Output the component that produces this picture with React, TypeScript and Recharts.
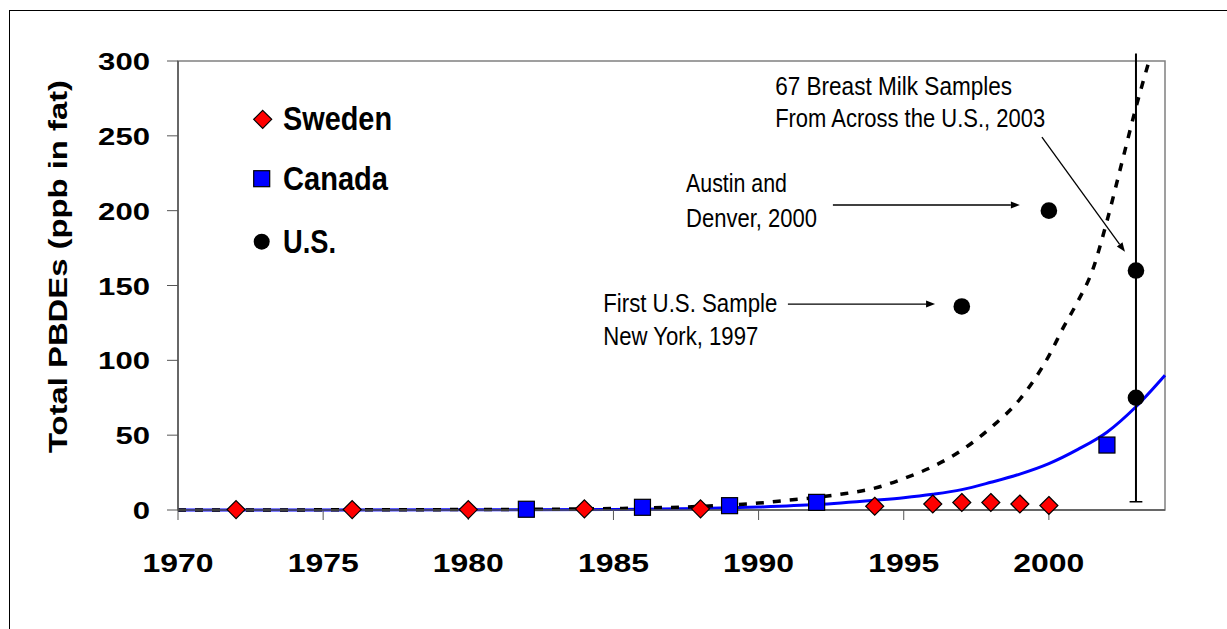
import React from 'react';
import {
  ComposedChart,
  Line,
  Scatter,
  XAxis,
  YAxis,
  Legend,
  ReferenceArea,
  ReferenceLine,
  ReferenceDot,
} from 'recharts';

document.body.style.margin = '0';

const xTicks = [1970, 1975, 1980, 1985, 1990, 1995, 2000];
const yTicks = [0, 50, 100, 150, 200, 250, 300];

const swedenYears = [1972, 1976, 1980, 1984, 1988, 1994, 1996, 1997, 1998, 1999, 2000];
const swedenValues = [0.3, 0.3, 0.3, 0.8, 0.8, 2.5, 4, 5, 5, 4, 3];

const canadaYears = [1982, 1986, 1989, 1992, 2002];
const canadaValues = [0.5, 1.8, 2.9, 5.1, 43.4];

const usYears = [1997, 2000, 2003, 2003];
const usValues = [136, 200, 160, 75];

// fitted curves as drawn in the original
const usTrendYears = [1970, 1975, 1980, 1984, 1986, 1988, 1990, 1991, 1992, 1993, 1994, 1995, 1996, 1997, 1998, 1999, 2000, 2000.5, 2001, 2001.5, 2002, 2002.5, 2003, 2003.45];
const usTrendValues = [0, 0.1, 0.3, 0.7, 1.3, 2.4, 4.6, 6.5, 8.4, 11, 14.6, 21, 29, 40, 55, 74, 103, 122, 139.5, 160, 193, 231, 269, 300];

const canadaTrendYears = [1970, 1980, 1985, 1988, 1990, 1992, 1994, 1995, 1996, 1997, 1998, 1999, 2000, 2001, 2002, 2003, 2004];
const canadaTrendValues = [0, 0.1, 0.4, 1, 2, 3.6, 6.5, 8.2, 10.5, 13.6, 18.5, 24, 31, 40.5, 52, 69, 90];

// 2003 range bar
const usRange = { year: 2003, low: 5.5, high: 305 };

const notes = [
  { year: 1990.57, value: 277.3, lines: ['67 Breast Milk Samples', 'From Across the U.S., 2003'], widths: [237, 270], gap: 31.7 },
  { year: 1987.5, value: 212.7, lines: ['Austin and', 'Denver, 2000'], widths: [101, 131], gap: 35.6 },
  { year: 1984.65, value: 132.5, lines: ['First U.S. Sample', 'New York, 1997'], widths: [174, 155], gap: 33.3 },
];

const arrows = [
  { from: [1999.76, 249.2], to: [2002.62, 172.6] },
  { from: [1992.56, 203.8], to: [1999.0, 203.8] },
  { from: [1991.01, 137.6], to: [1996.08, 137.6] },
];

const toPoints = (xs: number[], ys: number[]) => xs.map((year, i) => ({ year, value: ys[i] }));

const sweden = toPoints(swedenYears, swedenValues);
const canada = toPoints(canadaYears, canadaValues);
const us = toPoints(usYears, usValues);
const usTrend = toPoints(usTrendYears, usTrendValues);
const canadaTrend = toPoints(canadaTrendYears, canadaTrendValues);

const FONT = '"Liberation Sans", Arial, sans-serif';
const NARROW = '"Liberation Sans Narrow", "Liberation Sans", Arial, sans-serif';

const Diamond = (p: any) => (
  <polygon
    points={`${p.cx},${p.cy - 9} ${p.cx + 9},${p.cy} ${p.cx},${p.cy + 9} ${p.cx - 9},${p.cy}`}
    fill='#FF0000'
    stroke='#000'
    strokeWidth={1.2}
  />
);

const Square = (p: any) => (
  <rect x={p.cx - 8} y={p.cy - 8} width={16} height={16} fill='#0000FF' stroke='#000' strokeWidth={1.2} />
);

const Dot = (p: any) => <circle cx={p.cx} cy={p.cy} r={8.3} fill='#000' />;

const XTick = (p: any) => (
  <text
    x={p.x}
    y={p.y + 50}
    textAnchor='middle'
    fontFamily={FONT}
    fontWeight='bold'
    fontSize={26}
    textLength={String(p.payload.value).length * 17.75}
    lengthAdjust='spacingAndGlyphs'
    fill='#000'
  >
    {p.payload.value}
  </text>
);

const YTick = (p: any) => (
  <text
    x={p.x}
    y={p.y + 9}
    textAnchor='end'
    fontFamily={FONT}
    fontWeight='bold'
    fontSize={23}
    textLength={String(p.payload.value).length * 17.3}
    lengthAdjust='spacingAndGlyphs'
    fill='#000'
  >
    {p.payload.value}
  </text>
);

const Arrow = (p: any) => {
  const { x1, y1, x2, y2 } = p;
  const a = Math.atan2(y2 - y1, x2 - x1);
  const bx = x2 - 9 * Math.cos(a);
  const by = y2 - 9 * Math.sin(a);
  const px = -Math.sin(a) * 3.5;
  const py = Math.cos(a) * 3.5;
  return (
    <g>
      <line x1={x1} y1={y1} x2={bx} y2={by} stroke='#000' strokeWidth={1.3} />
      <polygon points={`${x2},${y2} ${bx + px},${by + py} ${bx - px},${by - py}`} fill='#000' />
    </g>
  );
};

const noteShape = (note: (typeof notes)[number]) => (p: any) => (
  <g>
    {note.lines.map((line, i) => (
      <text
        key={line}
        x={p.cx}
        y={p.cy + i * note.gap}
        fontFamily={NARROW}
        fontSize={25}
        textLength={note.widths[i]}
        lengthAdjust='spacingAndGlyphs'
        fill='#000'
      >
        {line}
      </text>
    ))}
  </g>
);

const LegendBox = () => (
  <svg width={170} height={175}>
    <polygon points='22.7,15.3 31.7,24.3 22.7,33.3 13.7,24.3' fill='#FF0000' stroke='#000' strokeWidth={1.2} />
    <text x={43} y={35} fontFamily={NARROW} fontWeight='bold' fontSize={34} textLength={109} lengthAdjust='spacingAndGlyphs'>
      Sweden
    </text>
    <rect x={13.7} y={75.7} width={16} height={16} fill='#0000FF' stroke='#000' strokeWidth={1.2} />
    <text x={43} y={95} fontFamily={NARROW} fontWeight='bold' fontSize={34} textLength={105} lengthAdjust='spacingAndGlyphs'>
      Canada
    </text>
    <circle cx={21.7} cy={146.7} r={8} fill='#000' />
    <text x={43} y={158} fontFamily={NARROW} fontWeight='bold' fontSize={34} textLength={53} lengthAdjust='spacingAndGlyphs'>
      U.S.
    </text>
  </svg>
);

export default function App() {
  return (
    <div style={{ position: 'relative', width: 1227, height: 629, overflow: 'hidden' }}>
      <div
        style={{
          position: 'absolute',
          left: 9,
          top: 10,
          width: 1218,
          height: 619,
          borderLeft: '1px solid #000',
          borderTop: '1px solid #000',
          boxSizing: 'border-box',
        }}
      />
      <ComposedChart width={1227} height={629} margin={{ top: 61, right: 62, bottom: 59, left: 78 }}>
        <ReferenceArea x1={1970} x2={2004} y1={0} y2={300} fill='none' stroke='#808080' strokeWidth={1.5} />
        <XAxis
          type='number'
          dataKey='year'
          domain={[1970, 2004]}
          ticks={xTicks}
          interval={0}
          height={60}
          tickSize={10}
          tick={<XTick />}
          axisLine={{ stroke: '#555', strokeWidth: 1.5 }}
          tickLine={{ stroke: '#555' }}
        />
        <YAxis
          type='number'
          domain={[0, 300]}
          ticks={yTicks}
          interval={0}
          width={100}
          tickSize={11}
          tickMargin={17}
          tick={<YTick />}
          axisLine={{ stroke: '#555', strokeWidth: 1.5 }}
          tickLine={{ stroke: '#555' }}
          label={() => (
            <text
              transform='translate(67, 266.5) rotate(-90)'
              textAnchor='middle'
              fontFamily={FONT}
              fontWeight='bold'
              fontSize={25}
              textLength={373}
              lengthAdjust='spacingAndGlyphs'
              fill='#000'
            >
              Total PBDEs (ppb in fat)
            </text>
          )}
        />
        <Legend
          layout='vertical'
          align='center'
          verticalAlign='middle'
          content={() => <LegendBox />}
          wrapperStyle={{ left: 240, top: 95, width: 170, height: 175 }}
        />
        <Scatter name='Sweden' data={sweden} dataKey='value' shape={Diamond} isAnimationActive={false} />
        <Scatter name='Canada' data={canada} dataKey='value' shape={Square} isAnimationActive={false} />
        <Scatter name='U.S.' data={us} dataKey='value' shape={Dot} isAnimationActive={false} />
        <Line
          data={canadaTrend}
          dataKey='value'
          type='monotone'
          dot={false}
          stroke='#0000FF'
          strokeWidth={3}
          isAnimationActive={false}
        />
        <Line
          data={usTrend}
          dataKey='value'
          type='monotone'
          dot={false}
          stroke='#000'
          strokeWidth={3.5}
          strokeDasharray='8 9'
          isAnimationActive={false}
        />
        <ReferenceLine
          segment={[
            { x: usRange.year, y: usRange.low },
            { x: usRange.year, y: usRange.high },
          ]}
          stroke='#000'
          strokeWidth={2}
          ifOverflow='visible'
        />
        <ReferenceLine
          segment={[
            { x: usRange.year - 0.22, y: usRange.low },
            { x: usRange.year + 0.22, y: usRange.low },
          ]}
          stroke='#000'
          strokeWidth={1.5}
          ifOverflow='visible'
        />
        {arrows.map((a, i) => (
          <ReferenceLine
            key={i}
            segment={[
              { x: a.from[0], y: a.from[1] },
              { x: a.to[0], y: a.to[1] },
            ]}
            shape={Arrow}
            ifOverflow='visible'
          />
        ))}
        {notes.map((n, i) => (
          <ReferenceDot key={i} x={n.year} y={n.value} r={0} shape={noteShape(n)} ifOverflow='visible' />
        ))}
      </ComposedChart>
    </div>
  );
}
